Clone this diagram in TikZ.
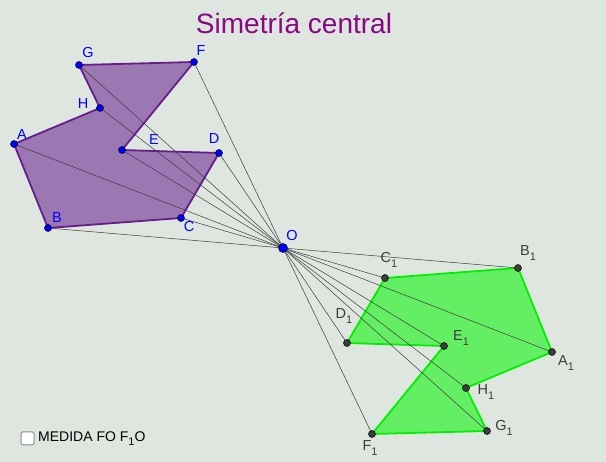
\documentclass[tikz,border=0pt]{standalone}
\usepackage{fontspec}
\setmainfont{Liberation Sans}
\usetikzlibrary{positioning}
\definecolor{fondo}{RGB}{222,230,223}
\definecolor{morado}{RGB}{102,30,140}
\definecolor{relleno}{RGB}{155,120,178}
\definecolor{verde}{RGB}{0,240,0}
\definecolor{rellenoverde}{RGB}{100,238,100}
\definecolor{titulo}{RGB}{136,8,132}
\definecolor{gris}{RGB}{60,60,60}
\newcommand{\subi}[1]{\raisebox{-4.5pt}{\fontsize{11}{12}\selectfont #1}}

\begin{document}
\begin{tikzpicture}[x=1pt,y=-1pt,
    punto/.style={circle,draw=black,line width=0.5pt,fill=blue,inner sep=0pt,minimum size=7pt},
    punto1/.style={punto,fill=gris},
    etiq/.style={text=blue,font=\fontsize{14.5}{16}\selectfont,inner sep=0pt},
    etiq1/.style={etiq,text=gris},
    rayo/.style={draw=gris,line width=0.5pt}]
  \useasboundingbox[fill=fondo] (0,0) rectangle (606,462);
  % vertices and their images through O
  \coordinate (O) at (283,248);
  \foreach \n/\x/\y in {A/14/144,B/48/228,C/181/218,D/219/153,E/122/150,F/194/62,G/79/65,H/100/108} {
    \coordinate (\n) at (\x,\y);
    \coordinate (\n1) at ({566-\x},{496-\y});
  }
  \filldraw[fill=relleno,draw=morado,line width=1.8pt,line join=round]
    (A) -- (B) -- (C) -- (D) -- (E) -- (F) -- (G) -- (H) -- cycle;
  \filldraw[fill=rellenoverde,draw=verde,line width=1.8pt,line join=round]
    (A1) -- (B1) -- (C1) -- (D1) -- (E1) -- (F1) -- (G1) -- (H1) -- cycle;
  \foreach \n in {A,...,H} {
    \draw[rayo] (\n) -- (\n1);
  }
  \foreach \n in {A,...,H} {
    \node[punto] at (\n) {};
    \node[punto1] at (\n1) {};
  }
  \node[punto,minimum size=9pt] (pO) at (O) {};
  % labels
  \node[etiq] (lO) at (292,236) {O};
  \foreach \n/\x/\y in {A/22/135,B/57/218,C/189/227,D/214/139,E/154/140,F/201/51,G/88/53,H/83/104} {
    \node[etiq] (l\n) at (\x,\y) {\n};
  }
  \foreach \n/\x/\y in {A/566/363,B/528/253,C/389/260,D/344/316,E/461/338,F/370/448,G/504/428,H/486/392} {
    \node[etiq1,anchor=center] (l\n1) at (\x,\y) {\n\subi{1}};
  }
  \node[text=titulo,font=\fontsize{28}{30}\selectfont,inner sep=0pt] (titulo) at (294,23) {Simetría central};
  % checkbox
  \node[draw=gris!60,fill=white,rounded corners=1.5pt,line width=1pt,minimum size=13pt,inner sep=0pt] (caja) at (27.5,438.5) {};
  \node[right=3.5pt of caja,inner sep=0pt,font=\fontsize{14}{16}\selectfont] (medida) {MEDIDA FO F\subi{1}O};
\end{tikzpicture}
\end{document}
